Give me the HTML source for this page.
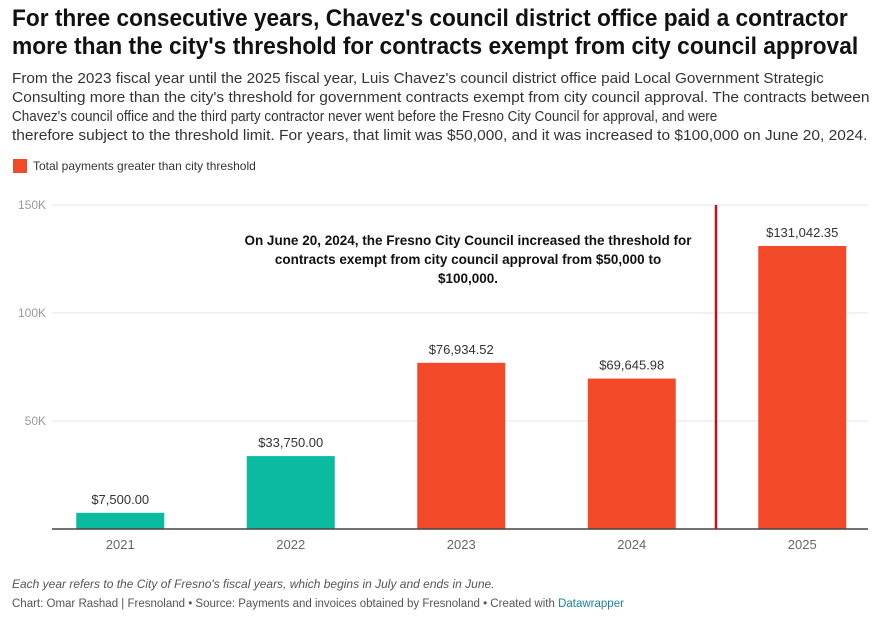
<!DOCTYPE html>
<html><head><meta charset="utf-8">
<style>
body{margin:0;background:#fff;width:880px;height:628px;overflow:hidden;font-family:"Liberation Sans",sans-serif;position:relative}
.ln{position:absolute;left:12px;white-space:nowrap;transform-origin:0 0}
.t{font-weight:bold;font-size:24px;color:#111}
.s{font-size:14.5px;color:#333}
.f{font-size:11.5px;color:#555}
</style></head><body>
<div class="ln t" data-w="836" style="top:5px">For three consecutive years, Chavez's council district office paid a contractor</div>
<div class="ln t" data-w="846" style="top:33px">more than the city's threshold for contracts exempt from city council approval</div>
<div class="ln s" data-w="812" style="top:71px">From the 2023 fiscal year until the 2025 fiscal year, Luis Chavez's council district office paid Local Government Strategic</div>
<div class="ln s" data-w="858" style="top:90px">Consulting more than the city's threshold for government contracts exempt from city council approval. The contracts between</div>
<div class="ln s" data-w="705" style="top:109px">Chavez's council office and the third party contractor never went before the Fresno City Council for approval, and were</div>
<div class="ln s" data-w="855" style="top:128px">therefore subject to the threshold limit. For years, that limit was $50,000, and it was increased to $100,000 on June 20, 2024.</div>
<div style="position:absolute;left:13px;top:159px;font-size:12px;color:#333;white-space:nowrap"><span style="display:inline-block;width:14px;height:14px;background:#f24a28;vertical-align:-3px;margin-right:6px"></span>Total payments greater than city threshold</div>
<svg id="chart" width="880" height="628" style="position:absolute;left:0;top:0"></svg>
<div class="ln f" style="top:577px;font-style:italic;font-size:12px">Each year refers to the City of Fresno's fiscal years, which begins in July and ends in June.</div>
<div class="ln f" style="top:598px">Chart: Omar Rashad | Fresnoland • Source: Payments and invoices obtained by Fresnoland • Created with <span style="color:#1d81a2">Datawrapper</span></div>
<script>
const categories=["2021","2022","2023","2024","2025"];
const values=[7500,33750,76934.52,69645.98,131042.35];
const overThreshold=[false,false,true,true,true];
const labels=["$7,500.00","$33,750.00","$76,934.52","$69,645.98","$131,042.35"];
const yTicks=[50000,100000,150000];
const yTickLabels=["50K","100K","150K"];
const NS="http://www.w3.org/2000/svg";
const svg=document.getElementById('chart');
const x0=52,x1=868,y0=529,ymax=150000,ytop=205;
const y=v=>y0-(v/ymax)*(y0-ytop);
const bandStart=35,band=170.5;
const xc=i=>bandStart+band*(i+0.5);
function mk(tag,a,txt){const e=document.createElementNS(NS,tag);for(const k in a)e.setAttribute(k,a[k]);if(txt!=null)e.textContent=txt;svg.appendChild(e);return e;}
yTicks.forEach((t,i)=>{
 const g=mk('line',{x1:x0,x2:x1,y1:y(t),y2:y(t),stroke:'#e4e4e4','stroke-width':1});
 
 
 const l=mk('text',{x:46,y:y(t)+4,'text-anchor':'end','font-size':12,fill:'#999','font-family':'Liberation Sans'},yTickLabels[i]);
 
 
});
const bw=88;
values.forEach((v,i)=>{
 const r=mk('rect',{x:xc(i)-bw/2,y:y(v),width:bw,height:y0-y(v),fill:overThreshold[i]?'#f24a28':'#0bbb9f'});
 
 
 const t=mk('text',{x:xc(i),y:y(v)-9,'text-anchor':'middle','font-size':13,fill:'#333','font-family':'Liberation Sans'},labels[i]);
 
 
 const c=mk('text',{x:xc(i),y:y0+20,'text-anchor':'middle','font-size':13,fill:'#666','font-family':'Liberation Sans'},categories[i]);
 
 
});
const ax=mk('line',{x1:x0,x2:x1,y1:y0,y2:y0,stroke:'#444','stroke-width':1.5});


const ml=mk('line',{x1:716,x2:716,y1:ytop,y2:y0,stroke:'#c0121b','stroke-width':2.5});


["On June 20, 2024, the Fresno City Council increased the threshold for","contracts exempt from city council approval from $50,000 to","$100,000."].forEach((s,i)=>{
 const a=mk('text',{x:468,y:245+i*19,'text-anchor':'middle','font-size':13.5,'font-weight':'bold',fill:'#111','font-family':'Liberation Sans'},s);
 
 
});
document.querySelectorAll('[data-w]').forEach(el=>{
 const w=el.scrollWidth,tw=+el.dataset.w;el.style.transform='scaleX('+(tw/w)+')';
});
</script>
</body></html>
